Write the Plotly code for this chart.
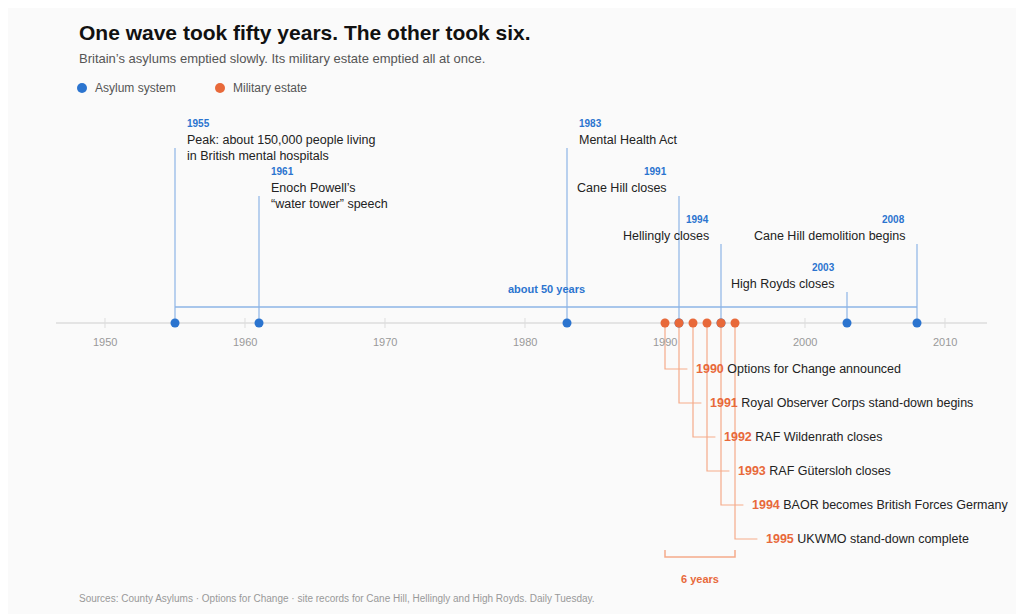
import plotly.graph_objects as go

# ---- data ----
asylum_years = [1955, 1961, 1983, 1991, 1994, 2003, 2008]
asylum_labels = ["Peak: about 150,000 people living<br>in British mental hospitals",
                 "Enoch Powell’s<br>“water tower” speech",
                 "Mental Health Act",
                 "Cane Hill closes",
                 "Hellingly closes",
                 "High Royds closes",
                 "Cane Hill demolition begins"]
asylum_top = [123, 171, 123, 171, 219, 267, 219]   # y of the year label (px)
asylum_side = ["right", "right", "right", "left", "left", "left", "left"]

military_years = [1990, 1991, 1992, 1993, 1994, 1995]
military_labels = ["Options for Change announced",
                   "Royal Observer Corps stand-down begins",
                   "RAF Wildenrath closes",
                   "RAF Gütersloh closes",
                   "BAOR becomes British Forces Germany",
                   "UKWMO stand-down complete"]
tick_years = [1950, 1960, 1970, 1980, 1990, 2000, 2010]

BLUE = "#2b74cf"
BLUE_L = "#8db4e6"
ORANGE = "#e8693a"
ORANGE_L = "#f5ab8a"
AXIS_Y = 323
FONT = "Liberation Sans, Arial, sans-serif"
OFF = 8          # page margin of the browser
X0 = 1942.5 + OFF / 14


def px_x(p):
    return 1942.5 + p / 14


def paper(px, py):
    return (px - OFF) / 1024, 1 - (py - OFF) / 614


fig = go.Figure()
shapes = []
ann = []

# axis line + ticks
shapes.append(dict(type="line", x0=1946.5, x1=2013, y0=AXIS_Y, y1=AXIS_Y, layer="below",
                   line=dict(color="#dddddd", width=1.5)))
for t in tick_years:
    shapes.append(dict(type="line", x0=t, x1=t, y0=AXIS_Y - 5, y1=AXIS_Y + 5, layer="below",
                       line=dict(color="#dddddd", width=1)))
    ann.append(dict(x=t, y=342, text=str(t), showarrow=False, font=dict(size=11, color="#999999")))

# 50-year bracket
shapes.append(dict(type="line", x0=asylum_years[0], x1=asylum_years[-1], y0=307, y1=307, layer="below",
                   line=dict(color=BLUE_L, width=1.5)))
ann.append(dict(x=(asylum_years[0] + asylum_years[-1]) / 2, y=289, text="<b>about 50 years</b>",
                showarrow=False, font=dict(size=11, color=BLUE)))

# asylum events
for yr, lab, top, side in zip(asylum_years, asylum_labels, asylum_top, asylum_side):
    shapes.append(dict(type="line", x0=yr, x1=yr, y0=top + 25, y1=AXIS_Y, layer="below",
                       line=dict(color=BLUE_L, width=1.2)))
    off = 0.7 if side == "right" else -0.7
    anchor = "left" if side == "right" else "right"
    ann.append(dict(x=yr + off, y=top, text="<b>%d</b>" % yr, showarrow=False, xanchor=anchor,
                    align=anchor, font=dict(size=10, color=BLUE)))
    ann.append(dict(x=yr + off, y=top + 8, text=lab, showarrow=False, xanchor=anchor, yanchor="top",
                    align=anchor, font=dict(size=12.5, color="#222222")))

# military events
for i, (yr, lab) in enumerate(zip(military_years, military_labels)):
    ly = 369 + 34 * i
    shapes.append(dict(type="path", path="M %f,%f L %f,%f L %f,%f" % (yr, AXIS_Y, yr, ly, yr + 1.6, ly),
                       layer="below", line=dict(color=ORANGE_L, width=1.2)))
    ann.append(dict(x=yr + 2.05, y=ly, text="<b><span style='color:%s'>%d</span></b> %s" % (ORANGE, yr, lab),
                    showarrow=False, xanchor="left", font=dict(size=12.5, color="#222222")))

# 6-year bracket
m0, m1 = military_years[0], military_years[-1]
shapes.append(dict(type="path", path="M %f,550 L %f,557 L %f,557 L %f,550" % (m0, m0, m1, m1),
                   line=dict(color=ORANGE_L, width=1.5)))
ann.append(dict(x=(m0 + m1) / 2, y=579, text="<b>6 years</b>", showarrow=False, font=dict(size=11, color=ORANGE)))

fig.add_trace(go.Scatter(x=asylum_years, y=[AXIS_Y] * len(asylum_years), mode="markers",
                         marker=dict(size=9, color=BLUE), hoverinfo="x", showlegend=False))
fig.add_trace(go.Scatter(x=military_years, y=[AXIS_Y] * len(military_years), mode="markers",
                         marker=dict(size=9, color=ORANGE), hoverinfo="x", showlegend=False))

# legend (manual)
fig.add_trace(go.Scatter(x=[px_x(82), px_x(220)], y=[88, 88], mode="markers",
                         marker=dict(size=10, color=[BLUE, ORANGE]), hoverinfo="skip", showlegend=False))
ann.append(dict(x=px_x(93), y=88, text="Asylum system", showarrow=False, xanchor="left",
                font=dict(size=12, color="#555555")))
ann.append(dict(x=px_x(231), y=88, text="Military estate", showarrow=False, xanchor="left",
                font=dict(size=12, color="#555555")))

# titles
for (py, txt, size, col) in [(32, "<b>One wave took fifty years. The other took six.</b>", 21, "#111111"),
                             (58, "Britain’s asylums emptied slowly. Its military estate emptied all at once.", 13, "#555555"),
                             (598, "Sources: County Asylums · Options for Change · site records for Cane Hill, Hellingly and High Royds. Daily Tuesday.", 10, "#999999")]:
    x, y = paper(77, py)
    ann.append(dict(xref="paper", yref="paper", x=x, y=y, text=txt, showarrow=False,
                    xanchor="left", yanchor="middle", font=dict(size=size, color=col)))

fig.update_layout(
    width=1024, height=614, margin=dict(l=0, r=0, t=0, b=0),
    paper_bgcolor="#fafafa", plot_bgcolor="#fafafa",
    font=dict(family=FONT),
    xaxis=dict(range=[X0, X0 + 1024 / 14], visible=False, fixedrange=True),
    yaxis=dict(range=[614 + OFF, OFF], visible=False, fixedrange=True),
    shapes=shapes, annotations=ann,
)

fig.write_html("out.html")
